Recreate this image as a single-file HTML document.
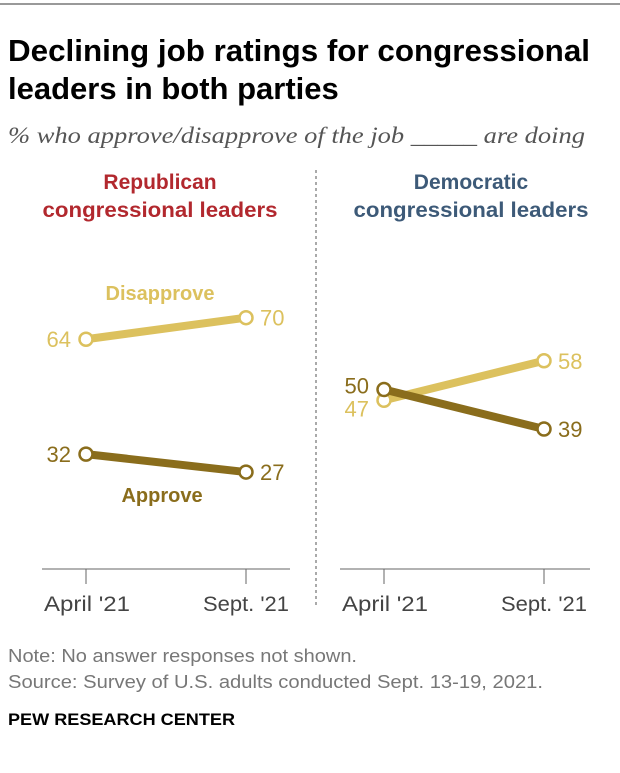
<!DOCTYPE html>
<html><head><meta charset="utf-8"><style>
body{margin:0;background:#fff;width:620px;height:768px;overflow:hidden;font-family:"Liberation Sans",sans-serif;}
</style></head><body>
<svg width="620" height="768" xmlns="http://www.w3.org/2000/svg" font-family="Liberation Sans, sans-serif">
<line x1="0" y1="4" x2="620" y2="4" stroke="#333" stroke-width="1"/>
<text x="8" y="61" font-size="31" font-weight="bold" fill="#000" textLength="582" lengthAdjust="spacingAndGlyphs">Declining job ratings for congressional</text>
<text x="8" y="99" font-size="31" font-weight="bold" fill="#000">leaders in both parties</text>
<text x="8" y="143" font-size="23" font-style="italic" font-family="Liberation Serif, serif" fill="#555" textLength="577" lengthAdjust="spacingAndGlyphs">% who approve/disapprove of the job _____ are doing</text>
<text x="160" y="189" font-size="21" font-weight="bold" fill="#b2282e" text-anchor="middle">Republican</text>
<text x="160" y="217" font-size="21" font-weight="bold" fill="#b2282e" text-anchor="middle" textLength="235" lengthAdjust="spacingAndGlyphs">congressional leaders</text>
<text x="471" y="189" font-size="21" font-weight="bold" fill="#3d5a78" text-anchor="middle">Democratic</text>
<text x="471" y="217" font-size="21" font-weight="bold" fill="#3d5a78" text-anchor="middle" textLength="235" lengthAdjust="spacingAndGlyphs">congressional leaders</text>
<line x1="316" y1="170" x2="316" y2="605" stroke="#555" stroke-dasharray="3,3"/>
<g id="plot"></g>
<text x="8" y="662" font-size="18" fill="#777" textLength="349" lengthAdjust="spacingAndGlyphs">Note: No answer responses not shown.</text>
<text x="8" y="688" font-size="18" fill="#777" textLength="535" lengthAdjust="spacingAndGlyphs">Source: Survey of U.S. adults conducted Sept. 13-19, 2021.</text>
<text x="8" y="725" font-size="17" font-weight="bold" fill="#000" textLength="227" lengthAdjust="spacingAndGlyphs">PEW RESEARCH CENTER</text>
</svg>
<script>
const categories=["April '21","Sept. '21"];
const repApprove=[32,27];
const repDisapprove=[64,70];
const demApprove=[50,39];
const demDisapprove=[47,58];
const NS="http://www.w3.org/2000/svg";
const g=document.getElementById('plot');
function y(v){return 569-3.59*v;}
function mk(t,a){const e=document.createElementNS(NS,t);for(const k in a)e.setAttribute(k,a[k]);g.appendChild(e);return e;}
const panels=[{x0:86,x1:246,l:42,r:290,name:'rep',ap:repApprove,dis:repDisapprove},{x0:384,x1:544,l:340,r:590,name:'dem',ap:demApprove,dis:demDisapprove}];
const LIGHT="#dcc15e",DARK="#8a6d1c";
panels.forEach(p=>{
  const xs=[p.x0,p.x1];
  let ax=mk('line',{x1:p.l,y1:569,x2:p.r,y2:569,stroke:'#666'});
  
  
  categories.forEach((c,i)=>{
    let t=mk('line',{x1:xs[i],y1:569,x2:xs[i],y2:584,stroke:'#666'});
    
    
    let tx=mk('text',{x:xs[i]+(i===0?1:0),y:611,'font-size':21,fill:'#444','text-anchor':'middle',textLength:86,lengthAdjust:'spacingAndGlyphs'});
    tx.textContent=c;
    
    
  });
  [[p.dis,LIGHT,'disapprove'],[p.ap,DARK,'approve']].forEach(([arr,col,nm])=>{
    let ln=mk('line',{x1:xs[0],y1:y(arr[0]),x2:xs[1],y2:y(arr[1]),stroke:col,'stroke-width':8});
    
    
    arr.forEach((v,i)=>{
      let c=mk('circle',{cx:xs[i],cy:y(v),r:6.5,fill:'#fff',stroke:col,'stroke-width':2.5});
      
      
      let off=0;
      if(p.name==='dem'&&i===0){off=nm==='approve'?-4:8;}
      let tx=mk('text',{x:i===0?xs[i]-15:xs[i]+14,y:y(v)+8+off,'font-size':22,fill:col,'text-anchor':i===0?'end':'start'});
      tx.textContent=v;
      
      
    });
  });
});
let l1=mk('text',{x:160,y:300,'font-size':20,'font-weight':'bold',fill:LIGHT,'text-anchor':'middle'});
l1.textContent='Disapprove';


let l2=mk('text',{x:162,y:502,'font-size':20,'font-weight':'bold',fill:DARK,'text-anchor':'middle'});
l2.textContent='Approve';


</script>
</body></html>
